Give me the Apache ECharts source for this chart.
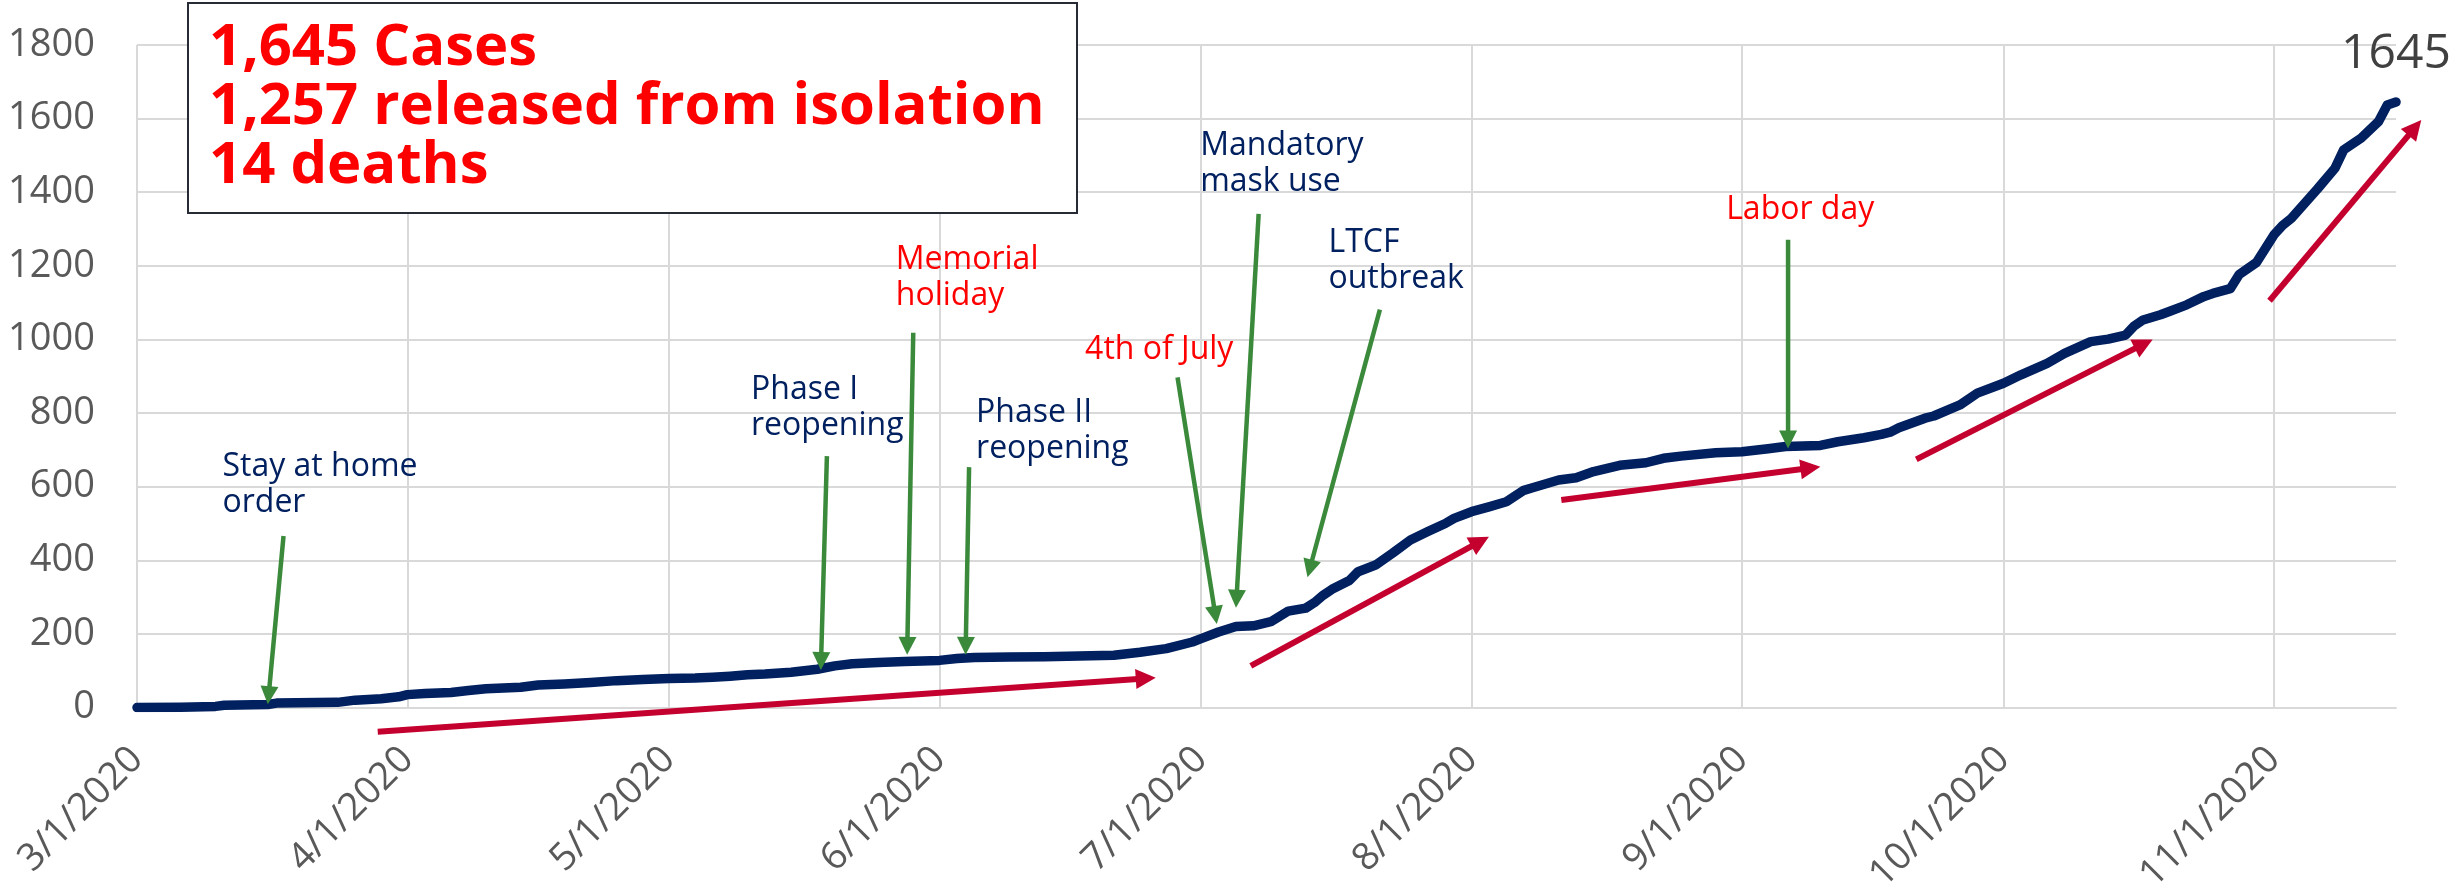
<!DOCTYPE html>
<html>
<head>
<meta charset="utf-8">
<title>Cumulative cases 2020</title>
<script src="https://cdn.jsdelivr.net/npm/echarts@6/dist/echarts.min.js"></script>
<style>
  html, body { margin: 0; padding: 0; background: #fff; }
  #chart { width: 2461px; height: 892px; }
</style>
</head>
<body>
<div id="chart"></div>
<script>
// cumulative cases (a point every few days)
const caseDates = [
  '3/1', '3/6', '3/10', '3/11', '3/16', '3/17', '3/24', '3/26', '3/29', '3/31',
  '4/1', '4/3', '4/6', '4/8', '4/10', '4/14', '4/16', '4/19', '4/22', '4/25', '4/28',
  '5/1', '5/4', '5/6', '5/8', '5/10', '5/12', '5/15', '5/18', '5/20', '5/22', '5/25', '5/28',
  '6/1', '6/3', '6/5', '6/9', '6/13', '6/17', '6/21', '6/24', '6/27', '6/30',
  '7/1', '7/3', '7/5', '7/7', '7/9', '7/11', '7/13', '7/14', '7/15', '7/16', '7/18', '7/19',
  '7/21', '7/23', '7/25', '7/27', '7/29', '7/30',
  '8/1', '8/3', '8/5', '8/7', '8/8', '8/11', '8/13', '8/15', '8/18', '8/21', '8/23', '8/25', '8/29',
  '9/1', '9/4', '9/6', '9/10', '9/12', '9/15', '9/17', '9/18', '9/19', '9/22', '9/23', '9/26', '9/28',
  '10/1', '10/3', '10/6', '10/8', '10/11', '10/13', '10/15', '10/16', '10/17', '10/19', '10/20',
  '10/22', '10/24', '10/25', '10/27', '10/28', '10/30',
  '11/1', '11/2', '11/3', '11/6', '11/8', '11/9', '11/11', '11/13', '11/14', '11/15'
];
const caseCounts = [
  0, 1, 3, 6, 8, 12, 14, 20, 24, 29,
  35, 38, 41, 46, 51, 55, 61, 64, 68, 73, 76,
  79, 80, 82, 85, 89, 91, 96, 104, 113, 119, 122, 125,
  128, 133, 136, 137, 138, 140, 142, 150, 160, 178,
  187, 205, 220, 222, 233, 262, 270, 285, 305, 321, 345, 369,
  387, 420, 455, 478, 500, 514,
  532, 545, 559, 590, 597, 618, 624, 641, 658, 665, 677, 683, 692,
  695, 703, 709, 712, 722, 733, 742, 748, 760, 786, 792, 822, 854,
  881, 904, 935, 962, 994, 1001, 1012, 1037, 1053, 1067, 1076,
  1094, 1117, 1125, 1138, 1176, 1209,
  1284, 1310, 1329, 1409, 1465, 1515, 1547, 1592, 1637, 1645
];
const monthTicks = ['3/1/2020', '4/1/2020', '5/1/2020', '6/1/2020', '7/1/2020',
  '8/1/2020', '9/1/2020', '10/1/2020', '11/1/2020'];
const summaryLines = ['1,645 Cases', '1,257 released from isolation', '14 deaths'];

// event notes: text, colour, top-left corner as [days since 3/1, cases]
const noteTexts = ['Stay at home\norder', 'Phase I\nreopening', 'Memorial\nholiday', 'Phase II\nreopening',
  '4th of July', 'Mandatory\nmask use', 'LTCF\noutbreak', 'Labor day'];
const noteColors = ['#002060', '#002060', '#ff0000', '#002060', '#ff0000', '#002060', '#002060', '#ff0000'];
const noteAnchors = [[9.8, 703], [70.4, 912], [87.0, 1266], [96.2, 850],
  [108.7, 1021], [121.9, 1576], [136.6, 1312], [182.2, 1402]];
// arrows as [fromDay, fromCases, toDay, toCases]
const eventArrows = [[16.8, 466, 15.0, 9], [79.1, 683, 78.4, 102], [89.0, 1018, 88.3, 143],
  [95.4, 653, 95.0, 143], [119.3, 897, 123.8, 227], [128.6, 1341, 126.0, 271],
  [142.5, 1081, 134.2, 354], [189.3, 1271, 189.3, 704]];
const trendArrows = [[27.6, -66, 116.8, 81], [127.7, 113, 155.0, 464], [163.3, 564, 193.0, 654],
  [204.0, 674, 231.1, 1000], [244.5, 1105, 261.9, 1596]];

// every day on the axis, 3/1 .. 11/15
const allDates = [];
for (let d = new Date(Date.UTC(2020, 2, 1)); d <= new Date(Date.UTC(2020, 10, 15)); d.setUTCDate(d.getUTCDate() + 1)) {
  allDates.push((d.getUTCMonth() + 1) + '/' + d.getUTCDate() + '/' + d.getUTCFullYear());
}
const lineData = caseDates.map((d, i) => [d + '/2020', caseCounts[i]]);
const isMonthStart = (idx, val) => monthTicks.indexOf(val) >= 0;
const lastPoint = lineData[lineData.length - 1];

const chart = echarts.init(document.getElementById('chart'));
chart.setOption({
  animation: false,
  textStyle: { fontFamily: '"Open Sans"' },
  grid: { left: 137, right: 65, top: 45, bottom: 184.5, outerBoundsMode: 'none' },
  xAxis: {
    type: 'category',
    data: allDates,
    boundaryGap: false,
    axisLine: { lineStyle: { color: '#d9d9d9', width: 2 } },
    axisTick: { show: false },
    axisLabel: {
      interval: isMonthStart,
      rotate: 45,
      margin: 46,
      fontSize: 38,
      color: '#595959',
      fontFamily: '"Open Sans"'
    },
    splitLine: { show: true, interval: isMonthStart, lineStyle: { color: '#d9d9d9', width: 2 } }
  },
  yAxis: {
    type: 'value',
    min: 0,
    max: 1800,
    interval: 200,
    axisLine: { show: false },
    axisTick: { show: false },
    axisLabel: { margin: 42, fontSize: 38, color: '#595959', fontFamily: '"Open Sans"', formatter: v => String(v) },
    splitLine: { lineStyle: { color: '#d9d9d9', width: 2 } }
  },
  series: [{
    type: 'line',
    data: lineData,
    showSymbol: false,
    symbol: 'none',
    lineStyle: { color: '#002060', width: 9.5, cap: 'round', join: 'round' },
    z: 3,
    markPoint: {
      symbol: 'circle',
      symbolSize: 0,
      itemStyle: { color: 'rgba(0,0,0,0)' },
      label: { show: true, position: 'top', distance: 24, formatter: '{c}', fontSize: 48, color: '#404040', fontFamily: '"Open Sans"' },
      data: [{ coord: [lastPoint[0], lastPoint[1]], value: lastPoint[1] }]
    }
  }]
});

// pixel position of a (fractional) day and a case count
const x0 = chart.convertToPixel({ xAxisIndex: 0 }, 0);
const xN = chart.convertToPixel({ xAxisIndex: 0 }, allDates.length - 1);
const dayStep = (xN - x0) / (allDates.length - 1);
function toPx(day, cases) {
  return [x0 + day * dayStep, chart.convertToPixel({ yAxisIndex: 0 }, cases)];
}

function arrow(a, color, width, headLen, headHalf) {
  const p = toPx(a[0], a[1]);
  const q = toPx(a[2], a[3]);
  const dx = q[0] - p[0], dy = q[1] - p[1];
  const len = Math.sqrt(dx * dx + dy * dy);
  const ux = dx / len, uy = dy / len;
  const bx = q[0] - ux * headLen, by = q[1] - uy * headLen;
  return [
    { type: 'line', z: 10, shape: { x1: p[0], y1: p[1], x2: bx + ux * 2, y2: by + uy * 2 },
      style: { stroke: color, lineWidth: width } },
    { type: 'polygon', z: 10, shape: { points: [q, [bx - uy * headHalf, by + ux * headHalf], [bx + uy * headHalf, by - ux * headHalf]] },
      style: { fill: color } }
  ];
}

const graphics = [];
eventArrows.forEach(a => graphics.push(...arrow(a, '#3b8a3b', 4.5, 18, 9)));
trendArrows.forEach(a => graphics.push(...arrow(a, '#c4002f', 6, 20, 10)));
noteTexts.forEach((t, i) => {
  const p = toPx(noteAnchors[i][0], noteAnchors[i][1]);
  graphics.push({
    type: 'text', x: p[0], y: p[1], z: 12,
    style: { text: t, fill: noteColors[i], fontSize: 32, fontFamily: '"Open Sans"', lineHeight: 36, align: 'left', verticalAlign: 'top' }
  });
});
// summary box in the top left corner
graphics.push({
  type: 'rect', z: 20, shape: { x: 188, y: 3, width: 889, height: 210 },
  style: { fill: '#fff', stroke: '#262b36', lineWidth: 2 }
});
graphics.push({
  type: 'text', z: 21, x: 209, y: 19,
  style: { text: summaryLines.join('\n'), fill: '#ff0000', fontSize: 58, fontWeight: 'bold', fontFamily: '"Open Sans"', lineHeight: 59, align: 'left', verticalAlign: 'top' }
});
chart.setOption({ graphic: graphics });
window.onresize = chart.resize;
</script>
</body>
</html>
